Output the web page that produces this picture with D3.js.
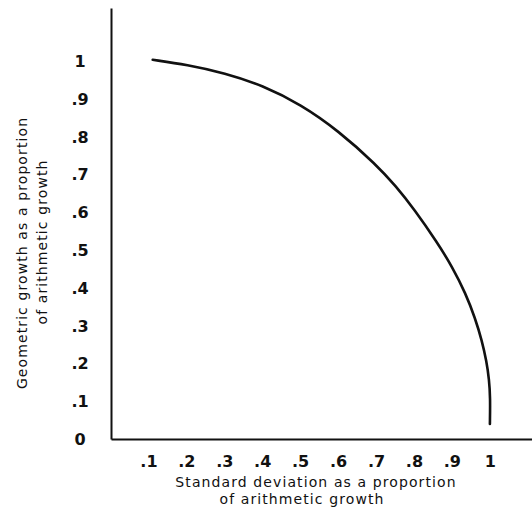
<!DOCTYPE html>
<html>
<head>
<meta charset="utf-8">
<script src="https://cdn.jsdelivr.net/npm/d3@7"></script>
<style>
  html, body { margin: 0; padding: 0; background: #fff; }
  svg { display: block; }
  .tick-label { font-family: "DejaVu Sans", sans-serif; font-size: 16px; font-weight: bold; fill: #111; }
  .axis-title { font-family: "DejaVu Sans", sans-serif; font-size: 14px; fill: #111; letter-spacing: 1.1px; }
</style>
</head>
<body>
<script>
// Standard deviation (as a proportion of arithmetic growth) along the curve
const sdProportion  = [0.11, 0.20, 0.30, 0.40, 0.50, 0.60, 0.70, 0.75, 0.80, 0.86, 0.90, 0.935, 0.96, 0.978, 0.99, 0.997, 1.0, 0.999];
// Geometric growth (as a proportion of arithmetic growth) at those points
const geoProportion = [1.003, 0.99, 0.968, 0.935, 0.885, 0.815, 0.725, 0.67, 0.607, 0.52, 0.455, 0.385, 0.32, 0.26, 0.206, 0.157, 0.11, 0.04];

const xTickValues = [0.1, 0.2, 0.3, 0.4, 0.5, 0.6, 0.7, 0.8, 0.9, 1];
const xTickLabels = [".1", ".2", ".3", ".4", ".5", ".6", ".7", ".8", ".9", "1"];
const yTickValues = [0, 0.1, 0.2, 0.3, 0.4, 0.5, 0.6, 0.7, 0.8, 0.9, 1];
const yTickLabels = ["0", ".1", ".2", ".3", ".4", ".5", ".6", ".7", ".8", ".9", "1"];

const xTitle = ["Standard  deviation as a proportion", "of arithmetic growth"];
const yTitle = ["Geometric growth as a proportion", "of arithmetic growth"];

const W = 532, H = 515;
const svg = d3.select("body").append("svg").attr("width", W).attr("height", H);

const x = d3.scaleLinear().domain([0, 1.11]).range([111, 532]);
const y = d3.scaleLinear().domain([0, 1.14]).range([439, 8]);

// Axis lines (no tick marks, as in a hand-lettered figure)
const xAxis = d3.axisBottom(x).tickValues([]).tickSizeOuter(0);
const yAxis = d3.axisLeft(y).tickValues([]).tickSizeOuter(0);
svg.append("g").attr("transform", `translate(0,${y(0)})`).call(xAxis)
  .select(".domain").attr("stroke", "#111").attr("stroke-width", 2);
svg.append("g").attr("transform", `translate(${x(0)},0)`).call(yAxis)
  .select(".domain").attr("stroke", "#111").attr("stroke-width", 2);

// Tick labels
svg.append("g").selectAll("text").data(xTickValues).join("text")
  .attr("class", "tick-label")
  .attr("x", d => x(d))
  .attr("y", 467)
  .attr("text-anchor", "middle")
  .text((d, i) => xTickLabels[i]);

svg.append("g").selectAll("text").data(yTickValues).join("text")
  .attr("class", "tick-label")
  .attr("x", 80)
  .attr("y", d => y(d) + 6)
  .attr("text-anchor", "middle")
  .text((d, i) => yTickLabels[i]);

// Axis titles
svg.append("text").attr("class", "axis-title")
  .attr("x", 316).attr("y", 487).attr("text-anchor", "middle").text(xTitle[0]);
svg.append("text").attr("class", "axis-title")
  .attr("x", 302).attr("y", 504).attr("text-anchor", "middle").text(xTitle[1]);

svg.append("text").attr("class", "axis-title")
  .attr("transform", "translate(27,253) rotate(-90)")
  .attr("text-anchor", "middle").text(yTitle[0]);
svg.append("text").attr("class", "axis-title")
  .attr("transform", "translate(47,242) rotate(-90)")
  .attr("text-anchor", "middle").text(yTitle[1]);

// The curve, smoothed with a B-spline through the read points
const pts = sdProportion.map((s, i) => [s, geoProportion[i]]);
const line = d3.line()
  .x(d => x(d[0]))
  .y(d => y(d[1]))
  .curve(d3.curveBasis);

svg.append("path")
  .datum(pts)
  .attr("d", line)
  .attr("fill", "none")
  .attr("stroke", "#111")
  .attr("stroke-width", 2.6)
  .attr("stroke-linecap", "round");
</script>
</body>
</html>
